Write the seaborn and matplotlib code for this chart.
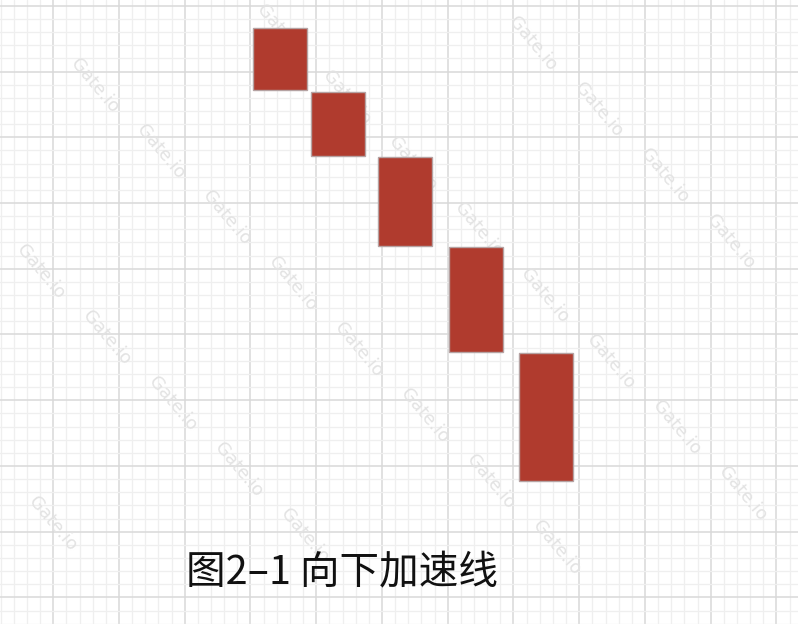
import numpy as np
import pandas as pd
import matplotlib
matplotlib.use("Agg")
import matplotlib.pyplot as plt
import seaborn as sns
from matplotlib.ticker import MultipleLocator

# ---- data ----
candle_ids = ["K1", "K2", "K3", "K4", "K5"]
positions = [17.25, 21.65, 26.75, 32.15, 37.47]
opens = [43.3, 38.45, 33.5, 26.65, 18.6]
closes = [38.6, 33.55, 26.7, 18.65, 8.85]
caption = "图2–1 向下加速线"
watermark = "Gate.io"

df = pd.DataFrame({"id": candle_ids, "x": positions, "open": opens, "close": closes})
df["body"] = df["open"] - df["close"]

sns.set_theme(style="white")
plt.rcParams['font.family'] = ['Noto Sans CJK SC', 'DejaVu Sans']

fig = plt.figure(figsize=(7.98, 6.24), dpi=100)
ax = fig.add_axes([0, 0, 1, 1])
ax.set_xlim(-4.05, 56.64)
ax.set_ylim(-2.02, 45.44)

ax.xaxis.set_major_locator(MultipleLocator(5))
ax.yaxis.set_major_locator(MultipleLocator(5))
ax.xaxis.set_minor_locator(MultipleLocator(1))
ax.yaxis.set_minor_locator(MultipleLocator(1))
ax.grid(which="minor", color="#efefef", linewidth=0.9, zorder=0)
ax.grid(which="major", color="#d9d9d9", linewidth=1.1, zorder=0)
ax.set_axisbelow(True)
ax.tick_params(which="both", length=0, labelbottom=False, labelleft=False)
for s in ax.spines.values():
    s.set_visible(False)

# watermarks (tiled lattice in pixel space), kept inside the canvas
for p in range(-8, 12):
    for q in range(-4, 8):
        px = 41 + 66 * p + 120 * q
        py = 272 + 66 * p - 120 * q
        if 30 < px < 770 and 30 < py < 590:
            ax.text(px / 798, 1 - py / 624, watermark, rotation=-50,
                    transform=fig.transFigure,
                    ha="center", va="center", fontsize=13,
                    color="#e3e3e3", family="DejaVu Sans", zorder=1)

ax.bar(df["x"], df["body"], bottom=df["close"], width=4.1,
       color="#b03b2e", edgecolor="#b5a3a3", linewidth=1.0, zorder=3)

ax.text(186 / 798, 1 - 584 / 624, caption, transform=ax.transAxes,
        ha="left", va="baseline", fontsize=28.5, color="#111111", zorder=4)

fig.savefig("out.png", dpi=100)
